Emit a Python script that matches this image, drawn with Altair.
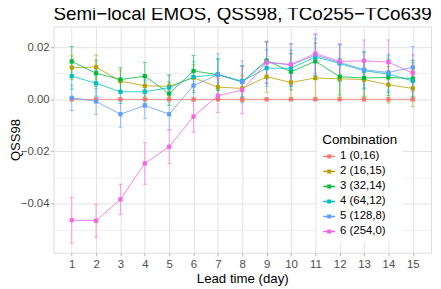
import altair as alt
import pandas as pd

days = list(range(1, 16))
combos = ["1 (0,16)", "2 (16,15)", "3 (32,14)", "4 (64,12)", "5 (128,8)", "6 (254,0)"]
colors = ["#F8766D", "#B79F00", "#00BA38", "#00BFC4", "#619CFF", "#F564E3"]

qss_1 = [0.0] * 15
qss_2 = [0.0122, 0.0124, 0.0070, 0.0052, 0.0050, 0.0083, 0.0047, 0.0042, 0.0087, 0.0065, 0.0082, 0.0079, 0.0076, 0.0056, 0.0042]
qss_3 = [0.0146, 0.0100, 0.0076, 0.0089, 0.0022, 0.0109, 0.0095, 0.0067, 0.0149, 0.0106, 0.0146, 0.0087, 0.0082, 0.0084, 0.0080]
qss_4 = [0.0089, 0.0062, 0.0029, 0.0029, 0.0045, 0.0086, 0.0095, 0.0070, 0.0120, 0.0119, 0.0163, 0.0138, 0.0110, 0.0097, 0.0071]
qss_5 = [0.0006, -0.0008, -0.0057, -0.0024, -0.0057, 0.0053, 0.0095, 0.0067, 0.0144, 0.0132, 0.0170, 0.0142, 0.0114, 0.0103, 0.0123]
qss_6 = [-0.0464, -0.0466, -0.0384, -0.0246, -0.0182, -0.0066, 0.0014, 0.0036, 0.0141, 0.0134, 0.0176, 0.0146, 0.0148, 0.0143, 0.0101]

err_1 = [0.0] * 15
err_2 = [0.0045, 0.0046, 0.0040, 0.0040, 0.0040, 0.0050, 0.0050, 0.0050, 0.0060, 0.0060, 0.0075, 0.0070, 0.0070, 0.0070, 0.0070]
err_3 = [0.0057, 0.0050, 0.0045, 0.0053, 0.0045, 0.0060, 0.0060, 0.0060, 0.0070, 0.0070, 0.0070, 0.0070, 0.0070, 0.0070, 0.0070]
err_4 = [0.0050, 0.0050, 0.0045, 0.0045, 0.0050, 0.0060, 0.0060, 0.0060, 0.0070, 0.0070, 0.0070, 0.0070, 0.0070, 0.0070, 0.0070]
err_5 = [0.0049, 0.0050, 0.0050, 0.0050, 0.0060, 0.0060, 0.0080, 0.0080, 0.0080, 0.0080, 0.0080, 0.0070, 0.0070, 0.0070, 0.0080]
err_6 = [0.0088, 0.0063, 0.0058, 0.0080, 0.0065, 0.0060, 0.0065, 0.0090, 0.0080, 0.0080, 0.0075, 0.0068, 0.0080, 0.0085, 0.0070]

qss_all = [qss_1, qss_2, qss_3, qss_4, qss_5, qss_6]
err_all = [err_1, err_2, err_3, err_4, err_5, err_6]

rows = []
for i, c in enumerate(combos):
    for d, v, e in zip(days, qss_all[i], err_all[i]):
        rows.append(dict(day=d, combo=c, order=i, qss=v, lo=v - e, hi=v + e))
df = pd.DataFrame(rows)

FONT = "Liberation Sans"
y_vals = [-0.05, -0.04, -0.03, -0.02, -0.01, 0.0, 0.01, 0.02]
is_major = "round(datum.value*100) % 2 == 0"

xs = alt.Scale(domain=[0.25, 15.75], nice=False, zero=False)
ys = alt.Scale(domain=[-0.0589, 0.0280], nice=False, zero=False)
cs = alt.Scale(domain=combos, range=colors)

x_axis = alt.Axis(
    values=days, format="d", title="Lead time (day)",
    grid=True, gridColor="#E3E3E3", gridWidth=1,
    domain=False, ticks=True, tickSize=3, tickColor="#B3B3B3",
    labelFont=FONT, labelFontSize=11.5, labelColor="#4D4D4D", labelPadding=2.5,
    titleFont=FONT, titleFontSize=13.4, titleFontWeight="normal", titleColor="black",
    titleY=26.5, titleBaseline="middle",
)
y_axis = alt.Axis(
    values=y_vals,
    labelExpr=f"{is_major} ? replace(format(datum.value, '.2f'), '-', '\u2212') : ''",
    title="QSS98",
    grid=True,
    gridColor={"condition": {"test": is_major, "value": "#E3E3E3"}, "value": "#EFEFEF"},
    domain=False, ticks=True, tickSize=3,
    tickColor={"condition": {"test": is_major, "value": "#B3B3B3"}, "value": "transparent"},
    labelFont=FONT, labelFontSize=11.5, labelColor="#4D4D4D", labelPadding=1.5,
    titleFont=FONT, titleFontSize=13.2, titleFontWeight="normal", titleColor="black",
    titleX=-38.5, titleY=114.5, titleBaseline="middle",
)

base = alt.Chart(df)
X = alt.X("day:Q", scale=xs, axis=x_axis)

bars_df = base.transform_filter(alt.datum.order > 0)
C0 = alt.Color("combo:N", scale=cs, legend=None)

rules = bars_df.mark_rule(strokeWidth=1, opacity=0.6).encode(
    x=X, y=alt.Y("lo:Q", scale=ys, axis=y_axis), y2="hi:Q", color=C0,
)
cap_lo = bars_df.mark_tick(orient="horizontal", size=4, thickness=1, opacity=0.6).encode(
    x=X, y=alt.Y("lo:Q", scale=ys, axis=y_axis), color=C0,
)
cap_hi = bars_df.mark_tick(orient="horizontal", size=4, thickness=1, opacity=0.6).encode(
    x=X, y=alt.Y("hi:Q", scale=ys, axis=y_axis), color=C0,
)
legend = alt.Legend(
    title="Combination", orient="none", legendX=267, legendY=103,
    fillColor="white", padding=5,
    titleFont=FONT, titleFontSize=13.5, titleFontWeight="normal", titleColor="black",
    titlePadding=3,
    labelFont=FONT, labelFontSize=11.5, labelColor="black", labelOffset=4,
    symbolType="M-1,0L1,0M-0.22,-0.22L0.22,-0.22L0.22,0.22L-0.22,0.22Z",
    symbolSize=144, symbolStrokeWidth=1.4, rowPadding=2.2, symbolOpacity=1,
)
lines = base.mark_line(strokeWidth=1.0, opacity=0.8).encode(
    x=X, y=alt.Y("qss:Q", scale=ys, axis=y_axis),
    color=alt.Color("combo:N", scale=cs, legend=legend),
    order="day:Q",
)
points = base.mark_point(shape="square", filled=True, size=18, opacity=1).encode(
    x=X, y=alt.Y("qss:Q", scale=ys, axis=y_axis), color=C0,
)

chart = alt.layer(lines, rules, cap_lo, cap_hi, points).properties(
    width=382, height=229,
    title=alt.TitleParams(
        "Semi\u2212local EMOS, QSS98, TCo255\u2212TCo639",
        anchor="start", frame="group", font=FONT, fontSize=19, fontWeight="normal",
        color="black", offset=2,
    ),
    autosize=alt.AutoSizeParams(type="none"),
    padding={"left": 46, "top": 17, "right": 2, "bottom": 33},
).configure_view(stroke="#BDBDBD", strokeWidth=1).configure(background="white")

chart.save("out.html", embed_options={"renderer": "svg", "actions": False})
